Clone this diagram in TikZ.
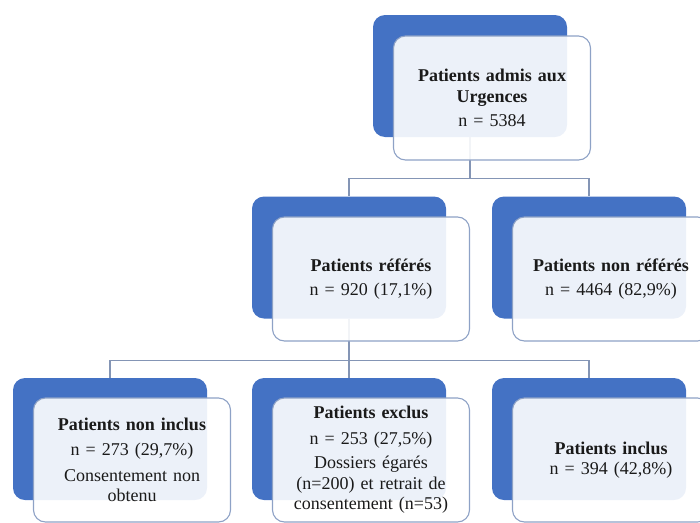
\documentclass[tikz,border=0pt]{standalone}
\usepackage{fontspec}
\setmainfont{Liberation Serif}
\definecolor{backblue}{HTML}{4472C4}
\definecolor{edgeblue}{HTML}{8EA2C6}
\definecolor{linecol}{HTML}{8495B5}
\definecolor{txt}{HTML}{1A1A1A}
\begin{document}
\begin{tikzpicture}[x=1pt,y=-1pt,
  backbox/.style={draw=none, fill=backblue, rounded corners=12pt,
    minimum width=194pt, minimum height=122pt, inner sep=0pt},
  frontbox/.style={draw=edgeblue, line width=1.1pt, fill=white, fill opacity=0.9,
    text opacity=1, rounded corners=12pt, minimum width=197pt, minimum height=124pt,
    inner sep=0pt, text width=192pt, align=center,
    font=\fontsize{18}{20.5}\selectfont, text=txt},
  link/.style={draw=linecol, line width=1.4pt}]
\useasboundingbox (0,0) rectangle (700,522);
\clip (0,0) rectangle (700,522);
% back boxes
\node[backbox] (b0) at (470,76) {};
\node[backbox] (b1) at (349,257.5) {};
\node[backbox] (b2) at (589,257.5) {};
\node[backbox] (b3) at (110,439) {};
\node[backbox] (b4) at (349,439) {};
\node[backbox] (b5) at (589,439) {};
% connectors
\draw[link] (b0.south) -- ++(0,41) -| (b1.north);
\draw[link] (b0.south) -- ++(0,41) -| (b2.north);
\draw[link] (b1.south) -- ++(0,41.5) -| (b3.north);
\draw[link] (b1.south) -- (b4.north);
\draw[link] (b1.south) -- ++(0,41.5) -| (b5.north);
% front boxes
\node[frontbox] (f0) at (492,98) {\textbf{Patients admis aux}\\\textbf{Urgences}\\[4pt]n = 5384};
\node[frontbox] (f1) at (371,279) {\textbf{Patients référés}\\[3pt]n = 920 (17,1\%)\\[8pt]};
\node[frontbox] (f2) at (611,279) {\textbf{Patients non référés}\\[3pt]n = 4464 (82,9\%)\\[6pt]};
\node[frontbox] (f3) at (132,460) {\textbf{Patients non inclus}\\[5pt]n = 273 (29,7\%)\\[5pt]Consentement non\\obtenu};
\node[frontbox] (f4) at (371,460) {\textbf{Patients exclus}\\[5pt]n = 253 (27,5\%)\\[4pt]Dossiers égarés\\(n=200) et retrait de\\consentement (n=53)};
\node[frontbox] (f5) at (611,460) {\textbf{Patients inclus}\\n = 394 (42,8\%)};
\end{tikzpicture}
\end{document}
